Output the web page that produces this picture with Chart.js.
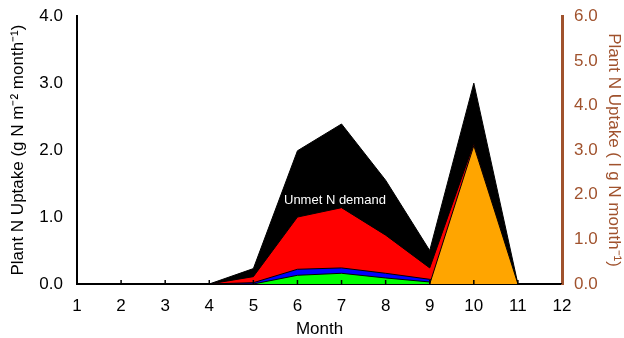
<!DOCTYPE html>
<html>
<head>
<meta charset="utf-8">
<script src="https://cdn.jsdelivr.net/npm/chart.js@4"></script>
<style>
  html, body { margin: 0; padding: 0; background: #fff; }
  #wrap { width: 624px; height: 338px; }
</style>
</head>
<body>
<div id="wrap"><canvas id="uptakeChart" width="624" height="338"></canvas></div>
<script>
// months on the x axis
var months = ['1', '2', '3', '4', '5', '6', '7', '8', '9', '10', '11', '12'];

// stacked components, left axis (g N m-2 month-1)
var greenUptake = [0, 0, 0, 0, 0, 0.13, 0.16, 0.09, 0.03, 0, 0, 0];
var blueUptake  = [0, 0, 0, 0, 0.02, 0.09, 0.08, 0.07, 0.04, 0, 0, 0];
var redUptake   = [0, 0, 0, 0, 0.09, 0.78, 0.90, 0.57, 0.17, 2.10, 0, 0];
var unmetDemand = [0, 0, 0, 0, 0.12, 0.99, 1.25, 0.82, 0.26, 0.90, 0, 0];

// orange series, right axis (g N month-1)
var orangeUptake = [null, null, null, null, null, null, null, null, 0, 3.1, 0, null];

var leftTicks = ['0.0', '1.0', '2.0', '3.0', '4.0'];
var rightTicks = ['0.0', '1.0', '2.0', '3.0', '4.0', '5.0', '6.0'];

function cumulate(lists) {
    var out = [];
    for (var i = 0; i < months.length; i++) {
        var s = 0;
        for (var j = 0; j < lists.length; j++) s += lists[j][i];
        out.push(+s.toFixed(3));
    }
    return out;
}

var greenTop = cumulate([greenUptake]);
var blueTop = cumulate([greenUptake, blueUptake]);
var redTop = cumulate([greenUptake, blueUptake, redUptake]);
var blackTop = cumulate([greenUptake, blueUptake, redUptake, unmetDemand]);

function area(data, color, order, axis) {
    return {
        data: data,
        yAxisID: axis || 'y',
        backgroundColor: color,
        borderColor: '#000',
        borderWidth: 1,
        pointRadius: 0,
        tension: 0,
        fill: 'origin',
        order: order
    };
}

var labelFont = { family: 'Liberation Sans, Arial, sans-serif', size: 17 };
var sienna = '#a0522d';

// small inward tick marks on the month axis and the annotation text
var extras = {
    id: 'extras',
    afterDraw: function (chart) {
        var ctx = chart.ctx;
        var x = chart.scales.x;
        var y = chart.scales.y;
        ctx.save();
        ctx.strokeStyle = '#000';
        ctx.lineWidth = 1.5;
        for (var i = 1; i < months.length - 1; i++) {
            var px = x.getPixelForValue(i);
            ctx.beginPath();
            ctx.moveTo(px, y.bottom);
            ctx.lineTo(px, y.bottom - 4);
            ctx.stroke();
        }
        ctx.fillStyle = '#fff';
        ctx.font = '13px Liberation Sans, Arial, sans-serif';
        ctx.textAlign = 'center';
        ctx.textBaseline = 'middle';
        ctx.fillText('Unmet N demand', x.getPixelForValue(5.85), y.getPixelForValue(1.25));
        ctx.restore();
    }
};

new Chart(document.getElementById('uptakeChart'), {
    type: 'line',
    data: {
        labels: months,
        datasets: [
            area(blackTop, '#000000', 5),
            area(redTop, '#ff0000', 4),
            area(blueTop, '#0000ff', 3),
            area(greenTop, '#00ff00', 2),
            area(orangeUptake, '#ffa500', 1, 'y2')
        ]
    },
    options: {
        responsive: false,
        animation: false,
        layout: { padding: { top: 15 } },
        plugins: { legend: { display: false }, tooltip: { enabled: false } },
        scales: {
            x: {
                offset: false,
                grid: { display: false },
                border: { color: '#000', width: 2 },
                ticks: { color: '#000', font: labelFont, padding: 4, maxRotation: 0 },
                title: { display: true, text: 'Month', color: '#000', font: labelFont, padding: { top: 8, bottom: -2 } },
                afterFit: function (s) { s.height = 54; }
            },
            y: {
                position: 'left',
                min: 0, max: 4,
                grid: { display: false },
                border: { color: '#000', width: 2 },
                ticks: {
                    stepSize: 1, color: '#000', font: labelFont, padding: 6,
                    callback: function (v) { return leftTicks[v]; }
                },
                title: { display: true, text: 'Plant N Uptake (g N m\u207B\u00B2 month\u207B\u00B9)', color: '#000', font: labelFont, padding: { top: 8, bottom: 0 } },
                afterFit: function (s) { s.width = 77; }
            },
            y2: {
                position: 'right',
                min: 0, max: 6,
                grid: { display: false },
                border: { color: sienna, width: 3 },
                ticks: {
                    stepSize: 1, color: sienna, font: labelFont, padding: 4,
                    callback: function (v) { return rightTicks[v]; }
                },
                title: { display: true, text: 'Plant N Uptake ( l g N month\u207B\u00B9)', color: sienna, font: labelFont, padding: { top: 0, bottom: 4 } },
                afterFit: function (s) { s.width = 62; }
            }
        }
    },
    plugins: [extras]
});
</script>
</body>
</html>
